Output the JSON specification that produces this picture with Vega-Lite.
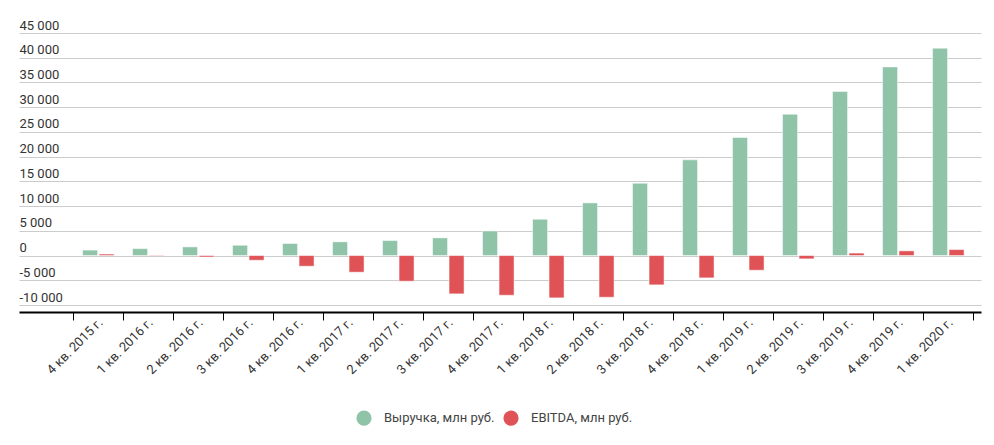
{
  "$schema": "https://vega.github.io/schema/vega-lite/v6.json",
  "width": 962,
  "height": 272,
  "autosize": {"type": "none"},
  "padding": {"left": 19, "top": 33, "right": 13, "bottom": 140},
  "config": {
    "font": "Roboto",
    "view": {"stroke": null},
    "locale": {"number": {"decimal": ",", "thousands": " ", "grouping": [3], "currency": ["", ""], "minus": "-"}}
  },
  "data": {
    "values": [
      {"q": "4 кв. 2015 г.", "s": "Выручка, млн руб.", "v": 1100},
      {"q": "4 кв. 2015 г.", "s": "EBITDA, млн руб.", "v": 300},
      {"q": "1 кв. 2016 г.", "s": "Выручка, млн руб.", "v": 1400},
      {"q": "1 кв. 2016 г.", "s": "EBITDA, млн руб.", "v": 100},
      {"q": "2 кв. 2016 г.", "s": "Выручка, млн руб.", "v": 1750},
      {"q": "2 кв. 2016 г.", "s": "EBITDA, млн руб.", "v": -300},
      {"q": "3 кв. 2016 г.", "s": "Выручка, млн руб.", "v": 2080},
      {"q": "3 кв. 2016 г.", "s": "EBITDA, млн руб.", "v": -950},
      {"q": "4 кв. 2016 г.", "s": "Выручка, млн руб.", "v": 2430},
      {"q": "4 кв. 2016 г.", "s": "EBITDA, млн руб.", "v": -2160},
      {"q": "1 кв. 2017 г.", "s": "Выручка, млн руб.", "v": 2770},
      {"q": "1 кв. 2017 г.", "s": "EBITDA, млн руб.", "v": -3370},
      {"q": "2 кв. 2017 г.", "s": "Выручка, млн руб.", "v": 3030},
      {"q": "2 кв. 2017 г.", "s": "EBITDA, млн руб.", "v": -5190},
      {"q": "3 кв. 2017 г.", "s": "Выручка, млн руб.", "v": 3570},
      {"q": "3 кв. 2017 г.", "s": "EBITDA, млн руб.", "v": -7750},
      {"q": "4 кв. 2017 г.", "s": "Выручка, млн руб.", "v": 4970},
      {"q": "4 кв. 2017 г.", "s": "EBITDA, млн руб.", "v": -8030},
      {"q": "1 кв. 2018 г.", "s": "Выручка, млн руб.", "v": 7340},
      {"q": "1 кв. 2018 г.", "s": "EBITDA, млн руб.", "v": -8560},
      {"q": "2 кв. 2018 г.", "s": "Выручка, млн руб.", "v": 10650},
      {"q": "2 кв. 2018 г.", "s": "EBITDA, млн руб.", "v": -8430},
      {"q": "3 кв. 2018 г.", "s": "Выручка, млн руб.", "v": 14620},
      {"q": "3 кв. 2018 г.", "s": "EBITDA, млн руб.", "v": -5930},
      {"q": "4 кв. 2018 г.", "s": "Выручка, млн руб.", "v": 19350},
      {"q": "4 кв. 2018 г.", "s": "EBITDA, млн руб.", "v": -4520},
      {"q": "1 кв. 2019 г.", "s": "Выручка, млн руб.", "v": 23860},
      {"q": "1 кв. 2019 г.", "s": "EBITDA, млн руб.", "v": -2970},
      {"q": "2 кв. 2019 г.", "s": "Выручка, млн руб.", "v": 28580},
      {"q": "2 кв. 2019 г.", "s": "EBITDA, млн руб.", "v": -670},
      {"q": "3 кв. 2019 г.", "s": "Выручка, млн руб.", "v": 33170},
      {"q": "3 кв. 2019 г.", "s": "EBITDA, млн руб.", "v": 500},
      {"q": "4 кв. 2019 г.", "s": "Выручка, млн руб.", "v": 38150},
      {"q": "4 кв. 2019 г.", "s": "EBITDA, млн руб.", "v": 950},
      {"q": "1 кв. 2020 г.", "s": "Выручка, млн руб.", "v": 41930},
      {"q": "1 кв. 2020 г.", "s": "EBITDA, млн руб.", "v": 1210}
    ]
  },
  "mark": {"type": "bar", "stroke": "#ffffff", "strokeOpacity": 0.5, "strokeWidth": 1},
  "encoding": {
    "x": {
      "field": "q",
      "type": "nominal",
      "sort": null,
      "scale": {"paddingInner": 0, "paddingOuter": 0.62, "align": 0.876},
      "axis": {
        "title": null,
        "tickBand": "extent",
        "domainColor": "#000000",
        "domainWidth": 2,
        "tickColor": "#000000",
        "tickWidth": 1,
        "tickSize": 8,
        "offset": 7,
        "labelAngle": -45,
        "labelAlign": "right",
        "labelBaseline": "middle",
        "labelPadding": 0,
        "labelOffset": 2,
        "labelFontSize": 13,
        "labelColor": "#333333",
        "labelFont": "Roboto",
        "grid": false
      }
    },
    "xOffset": {
      "field": "s",
      "type": "nominal",
      "sort": ["Выручка, млн руб.", "EBITDA, млн руб."],
      "scale": {"paddingInner": 0.09, "paddingOuter": 0.56}
    },
    "y": {
      "field": "v",
      "type": "quantitative",
      "scale": {"domain": [-10000, 45000], "nice": false, "zero": false},
      "axis": {
        "title": null,
        "values": [-10000, -5000, 0, 5000, 10000, 15000, 20000, 25000, 30000, 35000, 40000, 45000],
        "format": ",d",
        "domain": false,
        "ticks": false,
        "grid": true,
        "gridColor": "#cccccc",
        "gridWidth": 1,
        "labelAlign": "left",
        "labelBaseline": "alphabetic",
        "labelOffset": -4,
        "labelPadding": 0,
        "labelFontSize": 13,
        "labelColor": "#333333",
        "labelFont": "Roboto"
      }
    },
    "color": {
      "field": "s",
      "type": "nominal",
      "sort": ["Выручка, млн руб.", "EBITDA, млн руб."],
      "scale": {"domain": ["Выручка, млн руб.", "EBITDA, млн руб."], "range": ["#8fc4a9", "#df5357"]},
      "legend": {
        "title": null,
        "orient": "none",
        "direction": "horizontal",
        "legendX": 337,
        "legendY": 377,
        "symbolType": "circle",
        "symbolSize": 230,
        "symbolStrokeWidth": 0,
        "labelFontSize": 13,
        "labelColor": "#444444",
        "labelFont": "Roboto",
        "columnPadding": 8,
        "labelOffset": 12
      }
    }
  }
}
